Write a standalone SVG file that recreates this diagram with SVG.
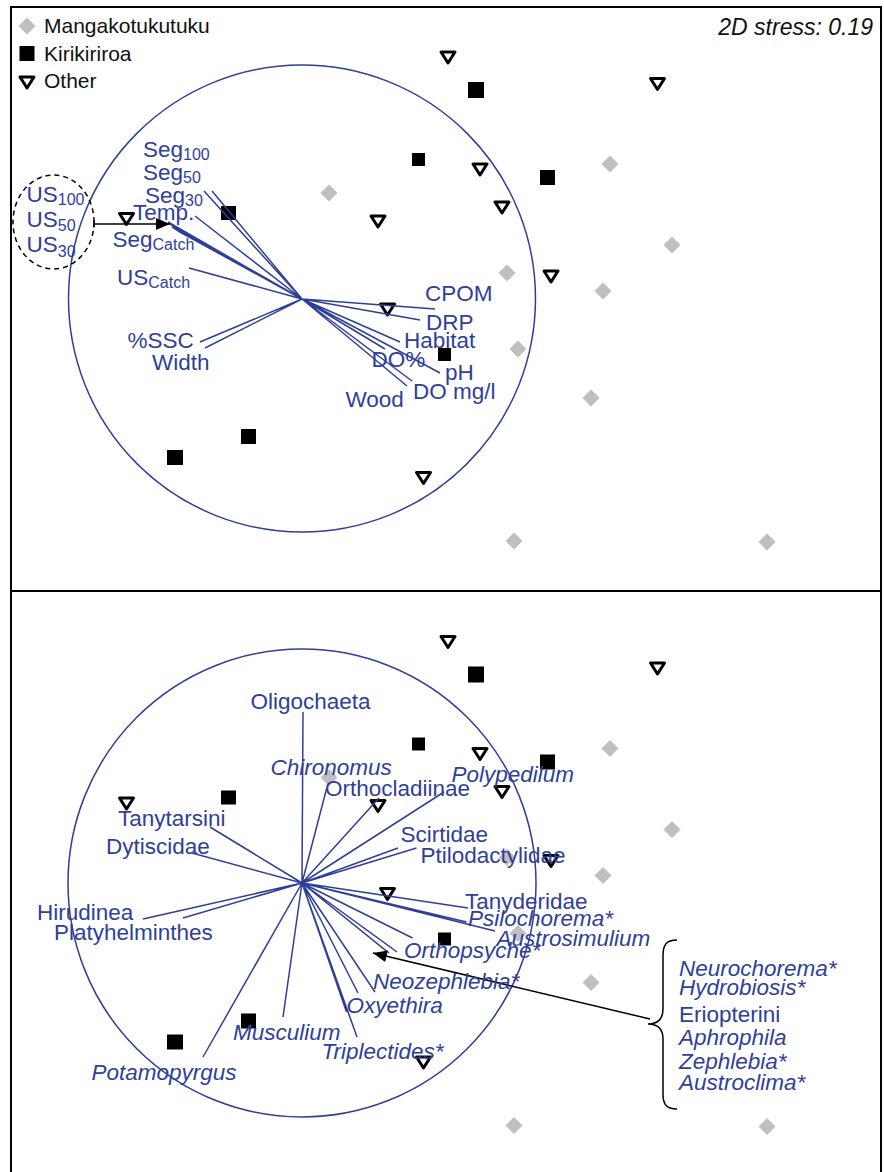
<svg xmlns="http://www.w3.org/2000/svg" xmlns:xlink="http://www.w3.org/1999/xlink" width="884" height="1172" viewBox="0 0 884 1172">
<style>
.ax{fill:none;stroke:#2f3f98;stroke-width:1.5}
.v{stroke:#2f3f98;stroke-width:1.5;fill:none}
.lb{font-family:"Liberation Sans",Arial,Helvetica,sans-serif;font-size:22.5px;fill:#2f3f98}
.lg{font-family:"Liberation Sans",Arial,Helvetica,sans-serif;font-size:21px;fill:#111}
.st{font-size:23px;font-style:italic}
.it{font-style:italic}
.sub{font-size:16px}
.dia{fill:#bfbfbf}
.sq{fill:#000}
.tri{fill:#fff;stroke:#000;stroke-width:3;stroke-linejoin:round}
.k{stroke:#000;stroke-width:1.5;fill:none}
</style>
<defs>
<path id="tri" class="tri" d="M-7,-5 L7,-5 L0,6 Z"/>
<path id="dia" class="dia" d="M0,-8.5 L8.5,0 L0,8.5 L-8.5,0 Z"/>
<marker id="ah" viewBox="0 0 14 12" refX="14" refY="6" markerWidth="14" markerHeight="12" orient="auto" markerUnits="userSpaceOnUse"><path d="M0,0 L14,6 L0,12 Z" fill="#000"/></marker>
</defs>
<rect width="884" height="1172" fill="#fff"/>
<g id="frame" fill="none" stroke="#000" stroke-width="2">
<rect x="11" y="7" width="870" height="1180"/>
<line x1="11" y1="591" x2="881" y2="591"/>
</g>
<g id="legend">
<use xlink:href="#dia" x="27" y="26"/>
<rect class="sq" x="19.5" y="46" width="15" height="15"/>
<use xlink:href="#tri" x="27" y="82"/>
<text class="lg" x="44" y="33">Mangakotukutuku</text>
<text class="lg" x="44" y="61">Kirikiriroa</text>
<text class="lg" x="44" y="88">Other</text>
<text class="lg st" x="873" y="35" text-anchor="end">2D stress: 0.19</text>
</g>
<g id="points-top">
<use xlink:href="#dia" x="329" y="193"/>
<use xlink:href="#dia" x="507" y="273"/>
<use xlink:href="#dia" x="610" y="164"/>
<use xlink:href="#dia" x="672" y="245"/>
<use xlink:href="#dia" x="603" y="291"/>
<use xlink:href="#dia" x="518" y="349"/>
<use xlink:href="#dia" x="591" y="398"/>
<use xlink:href="#dia" x="514" y="541"/>
<use xlink:href="#dia" x="767" y="542"/>
<rect class="sq" x="468" y="82" width="16" height="16"/>
<rect class="sq" x="412" y="153" width="13" height="13"/>
<rect class="sq" x="540" y="170" width="15" height="15"/>
<rect class="sq" x="221" y="206" width="15" height="14"/>
<rect class="sq" x="438" y="348" width="13" height="13"/>
<rect class="sq" x="241" y="429" width="15" height="15"/>
<rect class="sq" x="167" y="450" width="16" height="15"/>
<use xlink:href="#tri" x="448" y="57"/>
<use xlink:href="#tri" x="657.5" y="83.5"/>
<use xlink:href="#tri" x="480" y="169"/>
<use xlink:href="#tri" x="502" y="207"/>
<use xlink:href="#tri" x="378" y="221"/>
<use xlink:href="#tri" x="551" y="276"/>
<use xlink:href="#tri" x="126.5" y="218.5"/>
<use xlink:href="#tri" x="387.5" y="309"/>
<use xlink:href="#tri" x="423.5" y="477.5"/>
</g>
<use id="points-bottom" xlink:href="#points-top" transform="translate(0,584.5)"/>
<g id="connectors">
<circle class="ax" cx="302" cy="298.5" r="233.5"/>
<circle class="ax" cx="302" cy="883" r="234"/>
<g id="vectors-top" class="v">
<path d="M302,299 L212,191 M302,299 L204,191 M302,299 L195,216 M302,299 L168,222 M302,299 L170,224 M302,299 L172,227 M302,299 L175,229 M302,299 L178,231 M302,299 L189,268 M302,299 L200,342 M302,299 L205,348 M302,299 L435,309 M302,299 L420,320 M302,299 L400,342 M302,299 L385,349 M302,299 L440,373 M302,299 L412,381 M302,299 L407,386"/>
</g>
<g id="vectors-bottom" class="v">
<path d="M302,883 L303,712 M302,883 L326.5,789 M302,883 L379,798 M302,883 L444,792 M302,883 L398,848 M302,883 L416.5,848 M302,883 L210,827 M302,883 L192,853 M302,883 L143,919 M302,883 L183,918 M302,883 L203,1057 M302,883 L283,1017 M302,883 L357,1037 M302,883 L346.5,1012 M302,883 L358,993 M302,883 L375,992 M302,883 L412.5,938 M302,883 L397,952 M302,883 L393,949 M302,883 L389,953 M302,883 L385,950 M302,883 L468,908 M302,883 L466.5,922 M302,883 L495,931"/>
</g>
<ellipse class="k" cx="53.5" cy="222" rx="40.5" ry="47" stroke-dasharray="5,4"/>
<line class="k" x1="94" y1="224" x2="170" y2="224" marker-end="url(#ah)"/>
<line class="k" x1="94" y1="220.5" x2="94" y2="227.5"/>
<line class="k" x1="650" y1="1019" x2="373" y2="953" marker-end="url(#ah)"/>
<path class="k" d="M677,940 C666,940 663,945 663,956 L663,1009 C663,1019 658,1024 648,1024 C658,1024 663,1029 663,1039 L663,1094 C663,1104 666,1109 677,1109"/>
</g>
<g id="labels-top">
<g id="lbl-us100"><text class="lb" x="26.5" y="202">US<tspan class="sub" dy="3">100</tspan></text></g>
<g id="lbl-us50"><text class="lb" x="26.5" y="227">US<tspan class="sub" dy="4">50</tspan></text></g>
<g id="lbl-us30"><text class="lb" x="26.5" y="252">US<tspan class="sub" dy="5">30</tspan></text></g>
<g id="lbl-seg100"><text class="lb" x="143" y="157">Seg<tspan class="sub" dy="3">100</tspan></text></g>
<g id="lbl-seg50"><text class="lb" x="143" y="180">Seg<tspan class="sub" dy="3">50</tspan></text></g>
<g id="lbl-seg30"><text class="lb" x="145" y="203">Seg<tspan class="sub" dy="3">30</tspan></text></g>
<g id="lbl-temp"><text class="lb" x="133" y="220">Temp.</text></g>
<g id="lbl-segcatch"><text class="lb" x="112.5" y="247">Seg<tspan class="sub" dy="3">Catch</tspan></text></g>
<g id="lbl-uscatch"><text class="lb" x="117" y="285">US<tspan class="sub" dy="3">Catch</tspan></text></g>
<g id="lbl-ssc"><text class="lb" x="127.5" y="348">%SSC</text></g>
<g id="lbl-width"><text class="lb" x="152" y="370">Width</text></g>
<g id="lbl-cpom"><text class="lb" x="425" y="301">CPOM</text></g>
<g id="lbl-drp"><text class="lb" x="426" y="330">DRP</text></g>
<g id="lbl-habitat"><text class="lb" x="404" y="348">Habitat</text></g>
<g id="lbl-dopct"><text class="lb" x="371.5" y="366.5">DO%</text></g>
<g id="lbl-ph"><text class="lb" x="445" y="380">pH</text></g>
<g id="lbl-domgl"><text class="lb" x="413" y="399">DO mg/l</text></g>
<g id="lbl-wood"><text class="lb" x="345.5" y="406.5">Wood</text></g>
</g>
<g id="labels-bottom">
<g id="lbl-oligochaeta"><text class="lb" x="250.5" y="709">Oligochaeta</text></g>
<g id="lbl-chironomus"><text class="lb it" x="270.5" y="775">Chironomus</text></g>
<g id="lbl-orthocladiinae"><text class="lb" x="325" y="795.5">Orthocladiinae</text></g>
<g id="lbl-polypedilum"><text class="lb it" x="451.5" y="781.5">Polypedilum</text></g>
<g id="lbl-scirtidae"><text class="lb" x="400.5" y="841.5">Scirtidae</text></g>
<g id="lbl-ptilodactylidae"><text class="lb" x="420.5" y="863">Ptilodactylidae</text></g>
<g id="lbl-tanytarsini"><text class="lb" x="118" y="825.5">Tanytarsini</text></g>
<g id="lbl-dytiscidae"><text class="lb" x="106" y="854">Dytiscidae</text></g>
<g id="lbl-hirudinea"><text class="lb" x="37" y="920">Hirudinea</text></g>
<g id="lbl-platyhelminthes"><text class="lb" x="54" y="940">Platyhelminthes</text></g>
<g id="lbl-tanyderidae"><text class="lb" x="465" y="909">Tanyderidae</text></g>
<g id="lbl-psilochorema"><text class="lb it" x="468" y="926">Psilochorema*</text></g>
<g id="lbl-austrosimulium"><text class="lb it" x="496.5" y="945.5">Austrosimulium</text></g>
<g id="lbl-orthopsyche"><text class="lb it" x="404" y="958">Orthopsyche*</text></g>
<g id="lbl-neozephlebia"><text class="lb it" x="373" y="989">Neozephlebia*</text></g>
<g id="lbl-oxyethira"><text class="lb it" x="346.5" y="1012.5">Oxyethira</text></g>
<g id="lbl-musculium"><text class="lb it" x="233" y="1040">Musculium</text></g>
<g id="lbl-triplectides"><text class="lb it" x="321.5" y="1059">Triplectides*</text></g>
<g id="lbl-potamopyrgus"><text class="lb it" x="91.5" y="1080">Potamopyrgus</text></g>
<g id="lbl-group">
<text class="lb it" x="679" y="975.5">Neurochorema*</text>
<text class="lb it" x="679" y="995">Hydrobiosis*</text>
<text class="lb" x="679" y="1021.5">Eriopterini</text>
<text class="lb it" x="679" y="1045">Aphrophila</text>
<text class="lb it" x="679" y="1069">Zephlebia*</text>
<text class="lb it" x="679" y="1090">Austroclima*</text>
</g>
</g>
</svg>
